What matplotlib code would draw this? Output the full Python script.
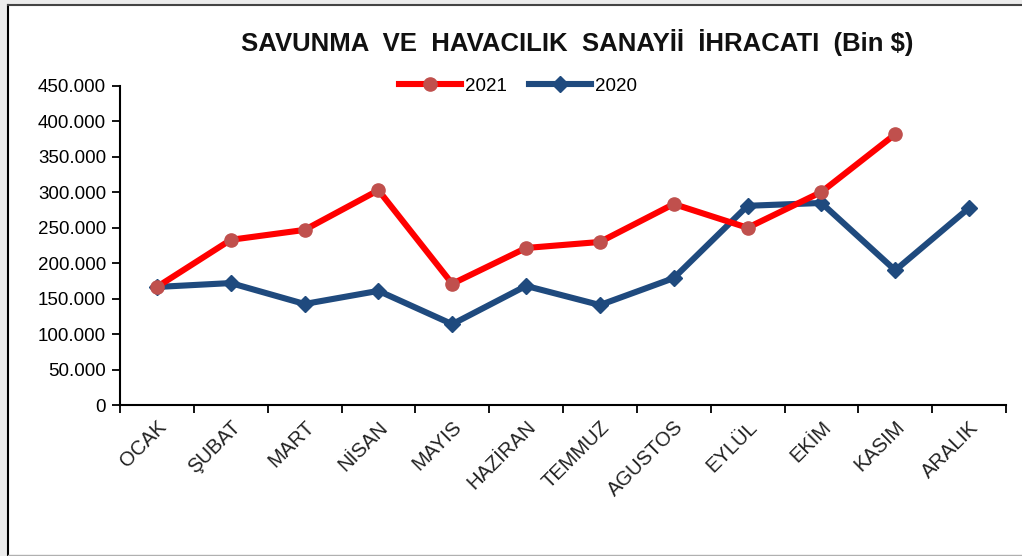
import matplotlib.pyplot as plt
from matplotlib.patches import Rectangle
from matplotlib.ticker import FuncFormatter, FixedLocator

plt.rcParams['font.family'] = ['Liberation Sans', 'DejaVu Sans']

months = ['OCAK', 'ŞUBAT', 'MART', 'NİSAN', 'MAYIS', 'HAZİRAN', 'TEMMUZ',
          'AGUSTOS', 'EYLÜL', 'EKİM', 'KASIM', 'ARALIK']
exp_2021 = [166500, 233000, 247000, 303000, 171000, 221500, 230000,
            283500, 250000, 300500, 382000]
exp_2020 = [166500, 172000, 142500, 161000, 114000, 168000, 141000,
            179000, 281000, 285000, 190000, 278000]

W, H = 1022, 556
fig = plt.figure(figsize=(W / 100, H / 100), dpi=100)
fig.patch.set_facecolor('#ececec')

# white chart area with frame
fig.add_artist(Rectangle((8 / W, 1 / H), 1.2, (554 - 6) / H + 0.002,
                         transform=fig.transFigure, facecolor='white',
                         edgecolor='none', zorder=0))
fig.add_artist(plt.Line2D([8 / W, 8 / W], [1 / H, 1 - 5 / H], transform=fig.transFigure,
                          color='black', lw=1.5))
fig.add_artist(plt.Line2D([8 / W, 1], [1 - 5 / H, 1 - 5 / H], transform=fig.transFigure,
                          color='#444444', lw=1.5))
fig.add_artist(plt.Line2D([8 / W, 1], [1.5 / H, 1.5 / H], transform=fig.transFigure,
                          color='#b0b0b0', lw=1))

ax = fig.add_axes([120 / W, (H - 405) / H, 886 / W, (405 - 86) / H])
ax.set_facecolor('none')

x21 = list(range(len(exp_2021)))
x20 = list(range(len(exp_2020)))
ax.plot(x21, exp_2021, color='#ff0000', lw=4.4, marker='o', ms=9.5,
        mfc='#c0504d', mec='#c0504d', label='2021', zorder=3)
ax.plot(x20, exp_2020, color='#1f4a7e', lw=4.4, marker='D', ms=8.5,
        mfc='#1f4a7e', mec='#1f4a7e', label='2020', zorder=2)

ax.set_xlim(-0.5, len(months) - 0.5)
ax.set_ylim(0, 450000)
ax.yaxis.set_major_locator(FixedLocator(range(0, 450001, 50000)))
ax.yaxis.set_major_formatter(FuncFormatter(lambda v, p: f'{int(v):,}'.replace(',', '.')))

ax.xaxis.set_major_locator(FixedLocator([i - 0.5 for i in range(len(months) + 1)]))
ax.xaxis.set_major_formatter(FuncFormatter(lambda v, p: ''))
ax.xaxis.set_minor_locator(FixedLocator(range(len(months))))
ax.set_xticklabels(months, minor=True)
ax.tick_params(axis='x', which='minor', length=0, pad=9, labelsize=14.5)
ax.tick_params(axis='x', which='major', length=6, width=1.3, direction='out')
ax.tick_params(axis='y', length=6, width=1.3, labelsize=13.5, pad=4)
for lbl in ax.get_xticklabels(minor=True):
    lbl.set_rotation(45)
    lbl.set_rotation_mode('anchor')
    lbl.set_ha('right')
    lbl.set_va('top')
    lbl.set_color('#222222')

for side in ['top', 'right']:
    ax.spines[side].set_visible(False)
for side in ['left', 'bottom']:
    ax.spines[side].set_linewidth(1.5)

fig.text(577 / W, 1 - 42 / H, 'SAVUNMA  VE  HAVACILIK  SANAYİİ  İHRACATI  (Bin $)',
         ha='center', va='center', fontsize=18.5, fontweight='bold', color='#111111')

leg = ax.legend(loc='center', bbox_to_anchor=(518 / W, 1 - 86 / H),
                bbox_transform=fig.transFigure, ncol=2, frameon=False,
                fontsize=13.5, handlelength=3.3, handletextpad=0.2,
                columnspacing=1.2)

fig.savefig('out.png', dpi=100)
